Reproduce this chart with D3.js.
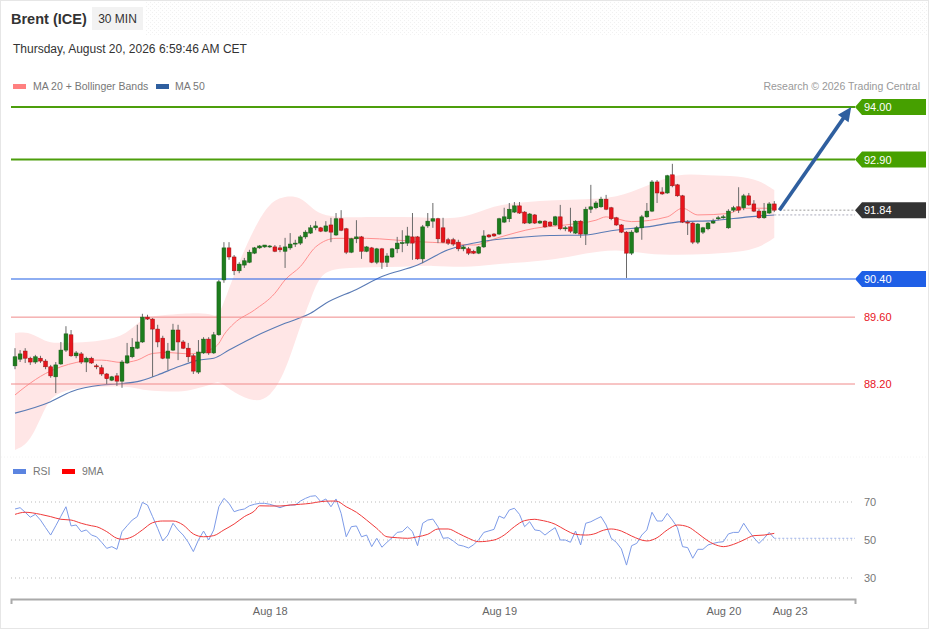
<!DOCTYPE html>
<html><head><meta charset="utf-8">
<script src="https://cdn.jsdelivr.net/npm/d3@7"></script>
<style>
body{margin:0;background:#fff;}
svg{display:block;font-family:"Liberation Sans",Arial,Helvetica,sans-serif;}
</style></head><body>
<svg id="c" width="929" height="629"></svg>
<script>
// ---------- DATA ----------
const opens = [88.58,88.72,88.89,88.74,88.66,88.74,88.68,88.56,88.35,88.62,
88.91,89.23,88.79,88.83,88.66,88.74,88.58,88.54,88.41,88.28,
88.37,88.26,88.64,88.77,88.95,89.08,89.60,89.56,89.35,89.16,
88.74,88.91,89.33,89.08,88.95,88.79,88.45,88.85,89.14,88.85,
89.23,90.38,91.05,90.86,90.57,90.69,90.75,90.94,91.05,91.07,
91.07,91.07,91.05,90.98,91.05,91.13,91.15,91.28,91.36,91.47,
91.47,91.40,91.53,91.32,91.66,91.45,90.96,91.24,91.28,90.98,
91.05,90.75,91.03,90.75,90.86,91.03,91.15,91.15,91.28,91.28,
90.82,91.51,91.61,91.66,91.47,91.22,91.22,91.17,91.03,91.03,
90.98,90.94,91.07,91.32,91.34,91.34,91.59,91.66,91.80,91.93,
91.80,91.57,91.74,91.57,91.61,91.59,91.53,91.70,91.45,91.49,
91.36,91.61,91.34,91.86,91.89,91.91,92.07,91.89,91.68,91.53,
91.38,90.94,91.38,91.47,91.70,91.82,92.43,92.22,92.20,92.58,
92.37,92.14,91.59,91.57,91.17,91.38,91.45,91.57,91.67,91.69,
91.47,91.84,91.91,91.89,92.14,91.97,91.82,91.68,91.78,91.97];
const highs = [88.95,88.91,88.95,88.77,88.81,88.79,88.72,88.60,88.66,89.08,
89.41,89.33,88.89,88.87,88.77,88.77,88.62,88.60,88.43,88.37,
88.43,88.70,89.06,89.16,89.44,89.67,89.65,89.58,89.44,89.21,
89.06,89.46,89.44,89.12,89.06,88.83,89.12,89.18,89.18,89.29,
90.38,91.17,91.17,90.90,90.75,90.84,91.01,91.07,91.11,91.11,
91.11,91.11,91.11,91.26,91.36,91.22,91.32,91.42,91.53,91.61,
91.49,91.61,91.68,91.78,91.84,91.47,91.26,91.63,91.30,91.09,
91.07,91.05,91.05,90.94,91.05,91.28,91.42,91.49,91.78,91.30,
91.53,91.78,91.99,91.68,91.68,91.26,91.26,91.22,91.11,91.07,
91.01,91.09,91.42,91.34,91.36,91.68,91.89,91.99,92.01,92.01,
91.82,91.78,91.76,91.63,91.63,91.61,91.72,91.95,91.51,91.89,
91.63,91.63,91.91,92.37,92.03,92.12,92.16,91.91,91.70,91.55,
91.40,91.42,91.51,91.74,91.99,92.47,92.47,92.32,92.58,92.81,
92.39,92.16,91.63,91.59,91.57,91.49,91.59,91.66,91.72,91.74,
91.86,91.93,92.32,92.18,92.20,92.05,91.86,91.99,92.01,92.03];
const lows = [88.51,88.66,88.64,88.60,88.62,88.64,88.51,88.33,88.01,88.60,
88.87,88.77,88.74,88.62,88.45,88.62,88.51,88.37,88.20,88.26,
88.16,88.12,88.62,88.74,88.93,89.06,89.54,88.35,88.97,88.72,
88.49,88.89,88.70,88.93,88.66,88.41,88.41,88.83,88.81,88.83,
89.21,90.32,90.80,90.48,90.52,90.63,90.73,90.92,91.03,91.05,
91.05,90.96,90.96,90.63,91.01,91.07,91.11,91.24,91.34,91.42,
91.38,91.38,91.17,91.30,91.40,90.92,90.94,91.15,90.82,90.96,
90.73,90.71,90.61,90.65,90.84,90.94,90.96,91.09,90.80,90.80,
90.73,91.47,91.47,91.15,91.15,91.11,91.09,90.98,90.98,90.90,
90.92,90.92,91.05,91.26,91.28,91.32,91.57,91.59,91.78,91.76,
91.55,91.55,91.55,91.55,91.47,91.49,91.51,91.42,91.40,91.36,
91.34,91.26,91.11,91.78,91.86,91.89,91.84,91.63,91.51,91.36,
90.42,90.90,91.36,91.22,91.68,91.80,91.99,92.16,92.18,92.32,
92.12,91.57,91.32,91.13,91.13,91.34,91.42,91.55,91.63,91.66,
91.45,91.80,91.78,91.84,91.93,91.80,91.66,91.66,91.76,91.80];
const closes = [88.77,88.83,88.74,88.66,88.77,88.68,88.56,88.37,88.60,88.91,
89.25,88.79,88.85,88.66,88.74,88.64,88.56,88.41,88.31,88.35,
88.26,88.66,88.79,88.97,89.08,89.60,89.56,89.35,89.08,88.74,
88.89,89.33,89.08,88.95,88.77,88.47,88.87,89.14,88.85,89.23,
90.34,91.05,90.86,90.57,90.71,90.78,90.96,91.05,91.09,91.11,
91.09,90.98,91.01,91.07,91.13,91.15,91.28,91.38,91.47,91.51,
91.40,91.51,91.38,91.66,91.42,90.96,91.24,91.28,90.98,91.07,
90.75,91.03,90.75,90.88,91.03,91.15,91.16,91.30,91.15,90.82,
91.49,91.61,91.66,91.24,91.17,91.15,91.13,91.03,91.07,90.94,
90.94,91.07,91.30,91.28,91.30,91.66,91.70,91.86,91.93,91.78,
91.57,91.76,91.57,91.61,91.49,91.51,91.70,91.45,91.47,91.40,
91.61,91.34,91.86,91.91,91.99,92.07,91.86,91.66,91.53,91.38,
90.94,91.38,91.47,91.70,91.82,92.43,92.20,92.18,92.56,92.35,
92.14,91.59,91.57,91.17,91.55,91.47,91.57,91.61,91.68,91.70,
91.82,91.89,91.84,92.14,91.95,91.82,91.68,91.82,91.97,91.84];

// Moving averages and Bollinger Bands (read at sample candle indices)
const ma20Idx = [0,2,6,9,12,15,17,21,24,27,30,34,38,40,41,43,47,51,53,56,59,63,69,74,79,85,90,95,102,108,114,116,121,128,131,134,140,143,149];
const ma20Val = [87.97,88.14,88.42,88.56,88.65,88.70,88.70,88.65,88.70,88.84,88.86,88.83,88.91,89.05,89.23,89.47,89.75,90.10,90.38,90.66,91.07,91.25,91.25,91.22,91.18,91.15,91.11,91.27,91.46,91.53,91.63,91.70,91.60,91.70,91.88,91.74,91.77,91.88,91.88];
const ma50Idx = [0,7,11,17,20,24,28,32,36,39,42,47,53,58,61,67,72,79,85,92,98,105,112,117,124,131,137,144,149];
const ma50Val = [87.59,87.83,88.04,88.18,88.20,88.25,88.39,88.56,88.70,88.74,88.91,89.19,89.47,89.68,89.89,90.18,90.45,90.69,91.01,91.19,91.26,91.31,91.32,91.41,91.49,91.60,91.62,91.70,91.74];
const bbIdx   = [0,3,6,8,12,17,22,25,29,33,36,39,40,43,47,50,53,56,58,60,64,70,76,82,88,94,100,106,112,118,124,130,136,142,146,149];
const bbUpper = [89.27,89.29,89.08,89.06,89.06,89.10,89.23,89.60,89.64,89.67,89.69,89.65,89.58,90.52,91.49,92.01,92.14,92.12,91.91,91.74,91.68,91.70,91.70,91.68,91.65,91.95,92.01,92.05,92.07,92.09,92.35,92.62,92.56,92.56,92.47,92.26];
const bbLower = [86.82,86.96,87.76,88.01,88.12,88.14,88.16,88.07,88.05,88.03,88.12,88.20,88.28,88.01,87.82,87.91,88.43,89.44,89.96,90.55,90.63,90.65,90.65,90.69,90.63,90.71,90.75,90.80,90.94,91.03,90.92,90.90,90.92,90.96,91.05,91.26];

// RSI (one value per candle) and its 9-period MA (sampled)
const rsi = [66.3,67,64.6,62,63.5,60.5,56.5,52.6,57.5,62.5,
67.5,57.4,57.9,54.4,55.3,52.6,51.7,48.8,45.6,46.5,
45.1,54.4,57.5,60.5,62.3,69.8,68.4,62.3,56.1,49.5,
52.6,58.8,55.3,52.6,48.8,43.9,50,54.7,50,55.3,
67.5,71.9,69.3,64.9,65.8,66.3,68,68.8,69.3,69.3,
68.8,68,67,68,68.4,68.4,70.5,71.9,73,73.3,
70.2,71.6,67.5,71.6,64,51.7,57,57.4,51.7,52.6,
46.5,50.9,46.2,48.8,51.2,54,54.4,57,54.4,47,
58.8,60.5,61,57,50.9,51.2,49.5,47.4,46.8,45.8,
47.5,50.2,54,54.8,55.6,62.6,61.4,65.8,66.7,63.5,
57,59.6,55.3,54.9,52.6,54.7,56.5,50,50,48.8,
54.7,47.4,58.8,59.6,61,62.3,57.9,50.9,48.8,45.3,
36.8,47,48.2,52.6,55.3,64.6,60,60,64,60.5,
56.5,46.5,46,40.4,45.1,45.1,47.4,48.2,48.8,49.1,
53.2,54,54,58.8,54.7,51.2,48.2,50.9,54,50.9];
const rsiMaIdx = [0,2,5,7,9,11,13,15,16,18,20,21,23,25,27,29,31,33,35,37,39,41,43,45,47,48,50,52,54,56,58,60,62,63,65,67,69,71,73,75,77,79,81,83,85,87,89,91,94,96,98,100,102,103,106,108,110,112,114,115,117,119,121,124,126,128,130,132,134,136,138,139,141,143,145,147,149];
const rsiMaVal = [63.5,64.6,63.5,62.3,60.9,60.5,58.8,57.5,57,54.4,50.9,50.4,51.7,55.3,59.1,60,60,57.9,53.2,51.7,52.3,55.3,58.4,62.3,65.3,68,67.9,67.9,68.4,68.8,69.3,70.2,70.5,70.5,67.5,64.6,60.5,56.1,51.7,51.2,50.9,51.7,53,55.8,55.8,53.5,50.9,49.1,50,52.6,57,60.2,60.9,60.5,58.3,55.3,53,52.6,53.5,54.7,55.8,54.7,52.1,49.5,51.2,55.3,57.9,57,53.5,49.5,47,46.5,47.7,50,52.3,52.6,53.5];

// Key levels
const levelPrices = [94.00, 92.90, 91.84, 90.40, 89.60, 88.20];
const levelKinds  = ["resistance","resistance","last","pivot","support","support"];
const lastPrice = 91.84;
const projection = [[150, 91.84], [164.1, 94.0]];   // [candle index, price]

// Axis ticks
const tickIdx = [50, 95, 139, 152];
const tickLabels = ["Aug 18", "Aug 19", "Aug 20", "Aug 23"];
const rsiTicks = [70, 50, 30];

// ---------- DRAW ----------
const svg = d3.select("#c");
const W = 929, H = 629;
const candles = opens.map((o,i)=>({i, o, h:highs[i], l:lows[i], c:closes[i]}));

const x = d3.scaleLinear().domain([-0.785, 164.84]).range([11, 855]);
const y = d3.scaleLinear().domain([88.2, 94]).range([384, 107]);
const yr = d3.scaleLinear().domain([30, 70]).range([578, 502]);

// top faint texture
const defs = svg.append("defs");
const pat = defs.append("pattern").attr("id","dots").attr("width",4).attr("height",4).attr("patternUnits","userSpaceOnUse");
pat.append("rect").attr("width",1).attr("height",1).attr("fill","#f1f1f1");
pat.append("rect").attr("x",2).attr("y",2).attr("width",1).attr("height",1).attr("fill","#f1f1f1");
svg.append("rect").attr("x",145).attr("y",1).attr("width",783).attr("height",34).attr("fill","url(#dots)");
svg.append("rect").attr("x",0.5).attr("y",0.5).attr("width",W-1).attr("height",H-1).attr("fill","none").attr("stroke","#e6e6e6");

// header
svg.append("text").attr("x",11).attr("y",24).attr("font-size",14.5).attr("font-weight","bold").attr("fill","#333").text("Brent (ICE)");
svg.append("rect").attr("x",92).attr("y",7).attr("width",51).attr("height",23).attr("fill","#f2f2f2");
svg.append("text").attr("x",117.5).attr("y",23).attr("text-anchor","middle").attr("font-size",12).attr("fill","#333").text("30 MIN");
svg.append("text").attr("x",13).attr("y",53).attr("font-size",12).attr("fill","#333").text("Thursday, August 20, 2026 6:59:46 AM CET");

// legend
svg.append("rect").attr("x",13).attr("y",84).attr("width",13).attr("height",5).attr("fill","#ff8080");
svg.append("text").attr("x",33).attr("y",90).attr("font-size",10.5).attr("fill","#777").text("MA 20 + Bollinger Bands");
svg.append("rect").attr("x",156).attr("y",84).attr("width",13).attr("height",5).attr("fill","#2f5f9f");
svg.append("text").attr("x",175).attr("y",90).attr("font-size",10.5).attr("fill","#777").text("MA 50");
svg.append("text").attr("x",920).attr("y",90).attr("text-anchor","end").attr("font-size",10.5).attr("fill","#999").text("Research © 2026 Trading Central");

// Bollinger band
const bb = bbIdx.map((i,k)=>({i, u:bbUpper[k], l:bbLower[k]}));
svg.append("path").datum(bb)
  .attr("d", d3.area().x(d=>x(d.i)).y0(d=>y(d.l)).y1(d=>y(d.u)).curve(d3.curveBasis))
  .attr("fill","#ffe6e6");

// MA lines
const lineGen = d3.line().x(d=>x(d[0])).y(d=>y(d[1])).curve(d3.curveMonotoneX);
svg.append("path").datum(ma20Idx.map((i,k)=>[i,ma20Val[k]])).attr("d",lineGen)
  .attr("fill","none").attr("stroke","#ff9090").attr("stroke-width",1);
svg.append("path").datum(ma50Idx.map((i,k)=>[i,ma50Val[k]])).attr("d",lineGen)
  .attr("fill","none").attr("stroke","#5a7bb5").attr("stroke-width",1.1);

// dotted extensions
svg.append("line").attr("x1",x(150)).attr("x2",855).attr("y1",y(lastPrice)).attr("y2",y(lastPrice))
  .attr("stroke","#999").attr("stroke-dasharray","2,2");
svg.append("line").attr("x1",x(149)).attr("x2",855).attr("y1",y(ma50Val[ma50Val.length-1])).attr("y2",y(ma50Val[ma50Val.length-1]))
  .attr("stroke","#aab").attr("stroke-dasharray","2,2");

// levels
const kindStyle = {
  resistance:{line:"#4c9e0c", w:2, box:"#46a000"},
  last:{line:null, box:"#333333"},
  pivot:{line:"#1f5fe6", w:1.1, box:"#1f5fe6"},
  support:{line:"#f08a8a", w:1, box:null}
};
levelPrices.forEach((p,k)=>{
  const s = kindStyle[levelKinds[k]], yy = y(p);
  if (s.line) svg.append("line").attr("x1",11).attr("x2",855).attr("y1",yy).attr("y2",yy)
      .attr("stroke",s.line).attr("stroke-width",s.w);
  if (s.box) {
    svg.append("path").attr("d",`M855,${yy}L862,${yy-8}H926V${yy+8}H862Z`).attr("fill",s.box);
    svg.append("text").attr("x",864).attr("y",yy+4).attr("font-size",11).attr("fill","#fff").text(p.toFixed(2));
  } else {
    svg.append("text").attr("x",864).attr("y",yy+4).attr("font-size",11).attr("fill","#e8141c").text(p.toFixed(2));
  }
});

// candles
const cg = svg.append("g");
const bw = 3.8;
candles.forEach(d=>{
  const up = d.c >= d.o;
  cg.append("line").attr("x1",x(d.i)).attr("x2",x(d.i)).attr("y1",y(d.h)).attr("y2",y(d.l))
    .attr("stroke","#6a6a6a").attr("stroke-width",1);
  const top = y(Math.max(d.o,d.c)), bot = y(Math.min(d.o,d.c));
  cg.append("rect").attr("x",x(d.i)-bw/2).attr("y",top).attr("width",bw).attr("height",Math.max(1,bot-top))
    .attr("fill", up ? "#1d7d1d" : "#e8141c")
    .attr("stroke", up ? "#145a14" : "#9a1010").attr("stroke-width",0.5);
});

// projection arrow
{
  const x0 = x(projection[0][0]), y0 = y(projection[0][1]);
  const x1 = x(projection[1][0]), y1 = y(projection[1][1]);
  const dx = x1-x0, dy = y1-y0, L = Math.hypot(dx,dy), ux = dx/L, uy = dy/L;
  const hl = 14, hw = 6.5;
  const bx = x1-ux*hl, by = y1-uy*hl;
  svg.append("line").attr("x1",x0).attr("y1",y0).attr("x2",bx+ux*2).attr("y2",by+uy*2)
    .attr("stroke","#2f5f9f").attr("stroke-width",3.6);
  svg.append("path").attr("d",`M${x1},${y1}L${bx-uy*hw},${by+ux*hw}L${bx+uy*hw},${by-ux*hw}Z`).attr("fill","#2f5f9f");
}

// panel separator (very faint)
svg.append("line").attr("x1",1).attr("x2",928).attr("y1",457).attr("y2",457).attr("stroke","#f4f4f4").attr("stroke-dasharray","1,2");

// RSI legend
svg.append("rect").attr("x",13).attr("y",469).attr("width",13).attr("height",5).attr("fill","#5b84e0");
svg.append("text").attr("x",33).attr("y",475).attr("font-size",10.5).attr("fill","#777").text("RSI");
svg.append("rect").attr("x",62).attr("y",469).attr("width",13).attr("height",5).attr("fill","#ff0000");
svg.append("text").attr("x",82).attr("y",475).attr("font-size",10.5).attr("fill","#777").text("9MA");

// RSI grid
rsiTicks.forEach(t=>{
  svg.append("line").attr("x1",11).attr("x2",855).attr("y1",yr(t)).attr("y2",yr(t))
    .attr("stroke","#bbb").attr("stroke-dasharray","1,3");
  svg.append("text").attr("x",864).attr("y",yr(t)+4).attr("font-size",11).attr("fill","#777").text(t);
});

// RSI lines
svg.append("path").datum(rsi).attr("d", d3.line().x((d,i)=>x(i)).y(d=>yr(d)))
  .attr("fill","none").attr("stroke","#7d9be8").attr("stroke-width",1);
svg.append("line").attr("x1",x(rsi.length-1)).attr("x2",855).attr("y1",yr(rsi[rsi.length-1])).attr("y2",yr(rsi[rsi.length-1]))
  .attr("stroke","#9fb3ea").attr("stroke-dasharray","2,2");
svg.append("path").datum(rsiMaIdx.map((i,k)=>[i,rsiMaVal[k]]))
  .attr("d", d3.line().x(d=>x(d[0])).y(d=>yr(d[1])).curve(d3.curveMonotoneX))
  .attr("fill","none").attr("stroke","#f03a3a").attr("stroke-width",1);

// x axis
const ax = svg.append("g").attr("transform","translate(0,599)")
  .call(d3.axisBottom(x).tickValues(tickIdx).tickFormat((d,k)=>tickLabels[k]).tickSizeInner(0).tickSizeOuter(5).tickPadding(8));
ax.select(".domain").attr("stroke","#aaa").attr("stroke-width",2);
ax.selectAll("text").attr("fill","#666").attr("font-size",11).attr("font-family","Liberation Sans, Arial, sans-serif");
</script>
</body></html>
